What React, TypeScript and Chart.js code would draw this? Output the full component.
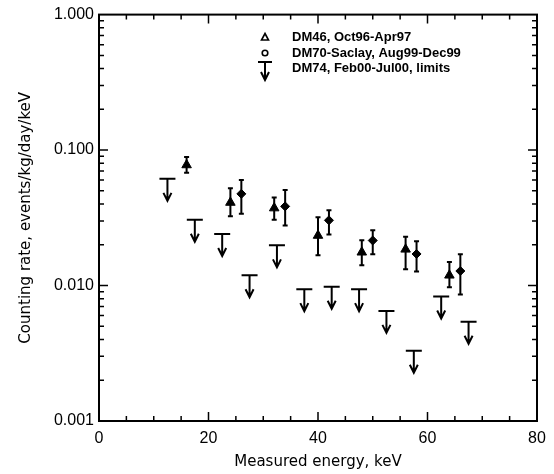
import React, { useEffect, useRef } from 'react';
import { Chart, registerables } from 'chart.js';

Chart.register(...registerables);

const FONT = "'Liberation Sans', Arial, Helvetica, sans-serif";
const TITLE_FONT = "'DejaVu Sans', 'Liberation Sans', sans-serif";

// DM46, Oct96-Apr97 (filled triangles with error bars)
const dm46Energy = [16, 24, 32, 40, 48, 56, 64];
const dm46Rate = [0.0776, 0.041, 0.0373, 0.0234, 0.0176, 0.0185, 0.0119];
const dm46Low = [0.0681, 0.0324, 0.0306, 0.0167, 0.0141, 0.0132, 0.0097];
const dm46High = [0.0889, 0.0523, 0.0447, 0.0319, 0.0216, 0.0229, 0.0149];

// DM70-Saclay, Aug99-Dec99 (filled diamonds with error bars)
const dm70Energy = [26, 34, 42, 50, 58, 66];
const dm70Rate = [0.0475, 0.0384, 0.0303, 0.0215, 0.0171, 0.0128];
const dm70Low = [0.0339, 0.0278, 0.0238, 0.017, 0.0127, 0.0086];
const dm70High = [0.0602, 0.0508, 0.0359, 0.0256, 0.0212, 0.017];

// DM74, Feb00-Jul00, limits (upper-limit arrows)
const dm74Energy = [12.5, 17.5, 22.5, 27.5, 32.5, 37.5, 42.5, 47.5, 52.5, 57.5, 62.5, 67.5];
const dm74Limit = [0.0613, 0.0306, 0.024, 0.0119, 0.0198, 0.0094, 0.0098, 0.0094, 0.0065, 0.0033, 0.0083, 0.0054];

const legendLabels = ['DM46, Oct96-Apr97', 'DM70-Saclay, Aug99-Dec99', 'DM74, Feb00-Jul00, limits'];

const xTitle = 'Measured energy, keV';
const yTitle = 'Counting rate, events/kg/day/keV';
const xMajorStep = 20;
const xMinorStep = 5;
const yDecades = [0.001, 0.01, 0.1];
const yMin = 0.001;
const yMax = 1;

const yTickValues: number[] = [];
yDecades.forEach((d) => {
  for (let k = 1; k <= 9; k++) yTickValues.push(+(k * d).toPrecision(6));
});
yTickValues.push(yMax);

const isDecade = (v: number) => Math.abs(Math.log10(v) - Math.round(Math.log10(v))) < 1e-9;

const drawArrow = (ctx: CanvasRenderingContext2D, px: number, py: number, half: number, len: number) => {
  ctx.beginPath();
  ctx.moveTo(px - half, py);
  ctx.lineTo(px + half, py);
  ctx.moveTo(px, py);
  ctx.lineTo(px, py + len);
  ctx.moveTo(px - 4, py + len - 8);
  ctx.lineTo(px, py + len);
  ctx.lineTo(px + 4, py + len - 8);
  ctx.stroke();
};

const errorBarPlugin = {
  id: 'errorBars',
  beforeDatasetsDraw(chart: any) {
    const { ctx, scales } = chart;
    const x = scales.x;
    const y = scales.y;
    chart.data.datasets.forEach((ds: any) => {
      if (!ds.errLow) return;
      ctx.save();
      ctx.strokeStyle = '#000';
      ctx.lineWidth = 2;
      ds.data.forEach((p: any, j: number) => {
        const px = x.getPixelForValue(p.x);
        const yl = y.getPixelForValue(ds.errLow[j]);
        const yh = y.getPixelForValue(ds.errHigh[j]);
        ctx.beginPath();
        ctx.moveTo(px, yl);
        ctx.lineTo(px, yh);
        ctx.moveTo(px - 2.5, yl);
        ctx.lineTo(px + 2.5, yl);
        ctx.moveTo(px - 2.5, yh);
        ctx.lineTo(px + 2.5, yh);
        ctx.stroke();
      });
      ctx.restore();
    });
  },
  afterDatasetsDraw(chart: any) {
    const { ctx, scales } = chart;
    const x = scales.x;
    const y = scales.y;
    chart.data.datasets.forEach((ds: any) => {
      if (!ds.limitArrows) return;
      ctx.save();
      ctx.strokeStyle = '#000';
      ctx.lineWidth = 2;
      ds.data.forEach((p: any) => {
        const px = x.getPixelForValue(p.x);
        const py = y.getPixelForValue(p.y);
        drawArrow(ctx, px, py, 8, 22);
      });
      ctx.restore();
    });
  },
};

const framePlugin = {
  id: 'frameTicks',
  afterDraw(chart: any) {
    const { ctx, chartArea, scales } = chart;
    const { left, right, top, bottom } = chartArea;
    const x = scales.x;
    const y = scales.y;
    ctx.save();
    ctx.strokeStyle = '#000';
    ctx.lineWidth = 2;
    ctx.strokeRect(left, top, right - left, bottom - top);
    ctx.lineWidth = 1.5;
    ctx.beginPath();
    x.ticks.forEach((t: any) => {
      const v = t.value;
      if (v <= x.min || v >= x.max) return;
      const px = x.getPixelForValue(v);
      const len = v % xMajorStep === 0 ? 9 : 5;
      ctx.moveTo(px, bottom);
      ctx.lineTo(px, bottom - len);
      ctx.moveTo(px, top);
      ctx.lineTo(px, top + len);
    });
    y.ticks.forEach((t: any) => {
      const v = t.value;
      if (v <= yMin || v >= yMax) return;
      const py = y.getPixelForValue(v);
      const len = isDecade(v) ? 9 : 5;
      ctx.moveTo(left, py);
      ctx.lineTo(left + len, py);
      ctx.moveTo(right, py);
      ctx.lineTo(right - len, py);
    });
    ctx.stroke();

    // legend inside the plot
    const sx = 265;
    const tx = 292;
    const ys = [37, 53, 68];
    ctx.fillStyle = '#000';
    ctx.font = `bold 13px ${FONT}`;
    ctx.textBaseline = 'middle';
    ctx.textAlign = 'left';
    legendLabels.forEach((lab, i) => ctx.fillText(lab, tx, ys[i]));
    ctx.lineWidth = 1.6;
    // open triangle
    ctx.beginPath();
    ctx.moveTo(sx, ys[0] - 3.5);
    ctx.lineTo(sx + 3.5, ys[0] + 3);
    ctx.lineTo(sx - 3.5, ys[0] + 3);
    ctx.closePath();
    ctx.stroke();
    // open circle
    ctx.beginPath();
    ctx.arc(sx, ys[1], 2.8, 0, Math.PI * 2);
    ctx.stroke();
    // arrow
    ctx.lineWidth = 2;
    drawArrow(ctx, sx, ys[2] - 6, 7, 18);
    ctx.restore();
  },
};

export default function App() {
  const ref = useRef<HTMLCanvasElement | null>(null);

  useEffect(() => {
    if (!ref.current) return;
    Chart.defaults.font.family = FONT;
    Chart.defaults.color = '#000';
    const chart = new Chart(ref.current, {
      type: 'scatter',
      data: {
        datasets: [
          {
            label: legendLabels[0],
            data: dm46Energy.map((e, i) => ({ x: e, y: dm46Rate[i] })),
            errLow: dm46Low,
            errHigh: dm46High,
            pointStyle: 'triangle',
            pointRadius: 5.5,
            backgroundColor: '#000',
            borderColor: '#000',
            borderWidth: 1,
          } as any,
          {
            label: legendLabels[1],
            data: dm70Energy.map((e, i) => ({ x: e, y: dm70Rate[i] })),
            errLow: dm70Low,
            errHigh: dm70High,
            pointStyle: 'rectRot',
            pointRadius: 4.5,
            backgroundColor: '#000',
            borderColor: '#000',
            borderWidth: 1,
          } as any,
          {
            label: legendLabels[2],
            data: dm74Energy.map((e, i) => ({ x: e, y: dm74Limit[i] })),
            limitArrows: true,
            pointRadius: 0,
            backgroundColor: '#000',
            borderColor: '#000',
          } as any,
        ],
      },
      options: {
        responsive: false,
        animation: false,
        events: [],
        layout: { padding: { top: 12, right: 17, left: 0, bottom: 0 } },
        plugins: { legend: { display: false }, tooltip: { enabled: false } },
        scales: {
          x: {
            type: 'linear',
            min: 0,
            max: 80,
            grid: { display: false, drawTicks: false },
            border: { display: false },
            ticks: {
              stepSize: xMinorStep,
              autoSkip: false,
              maxRotation: 0,
              padding: 8,
              color: '#000',
              font: { size: 16, family: FONT },
              callback: (v: any) => (Number(v) % xMajorStep === 0 ? String(v) : ''),
            },
            title: {
              display: true,
              text: xTitle,
              color: '#000',
              font: { size: 15, family: TITLE_FONT },
              padding: { top: 0, bottom: 3 },
            },
            afterFit: (s: any) => {
              s.height = 53;
            },
          },
          y: {
            type: 'logarithmic',
            min: yMin,
            max: yMax,
            grid: { display: false, drawTicks: false },
            border: { display: false },
            afterBuildTicks: (s: any) => {
              s.ticks = yTickValues.map((v) => ({ value: v }));
            },
            ticks: {
              autoSkip: false,
              padding: 5,
              color: '#000',
              font: { size: 16, family: FONT },
              callback: (v: any) => (isDecade(Number(v)) ? Number(v).toFixed(3) : ''),
            },
            title: {
              display: true,
              text: yTitle,
              color: '#000',
              font: { size: 15, family: TITLE_FONT },
              padding: { top: 17, bottom: 0 },
            },
            afterFit: (s: any) => {
              s.width = 99;
            },
          },
        },
      } as any,
      plugins: [errorBarPlugin, framePlugin],
    });
    return () => chart.destroy();
  }, []);

  return (
    <div style={{ position: 'absolute', left: 0, top: 0, width: 554, height: 474, background: '#fff' }}>
      <canvas ref={ref} width={554} height={474} style={{ display: 'block' }} />
    </div>
  );
}
